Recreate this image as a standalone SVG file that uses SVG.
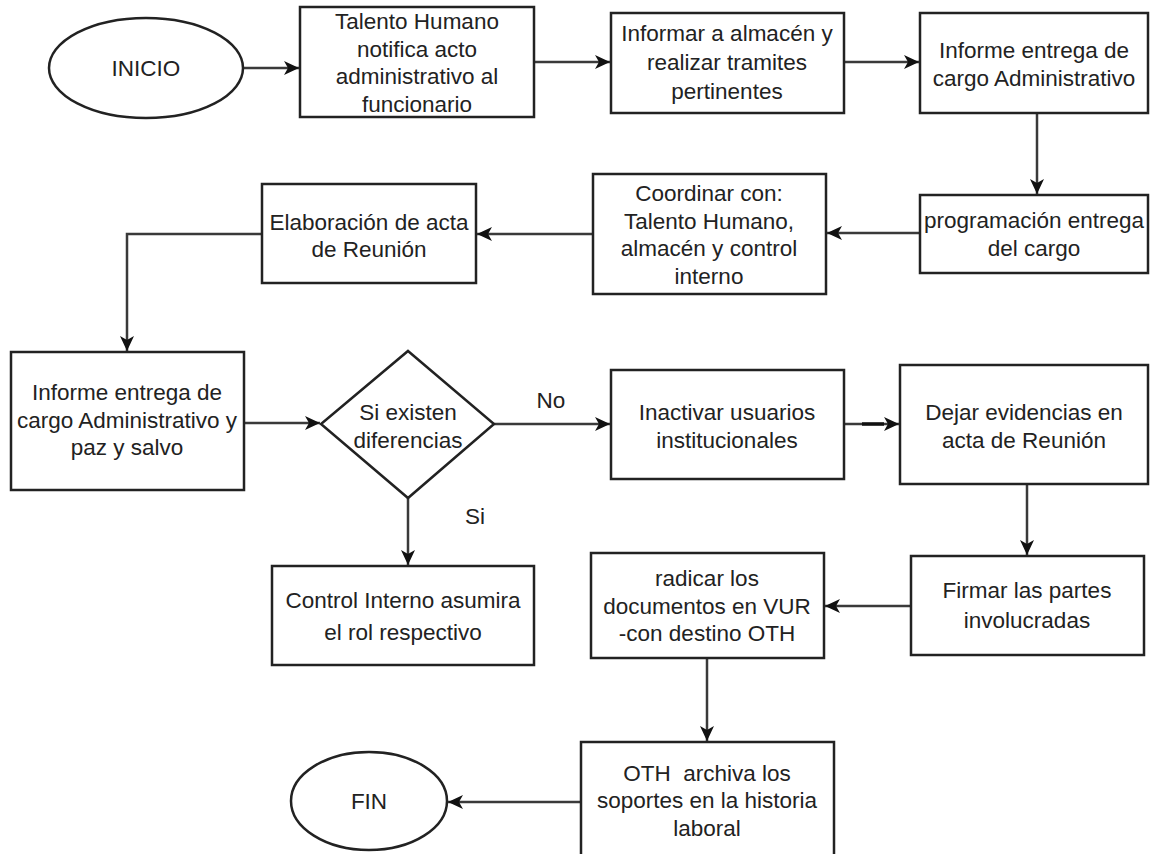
<svg xmlns="http://www.w3.org/2000/svg" width="1151" height="854" viewBox="0 0 1151 854">
<style>
.box{fill:#fff;stroke:#222;stroke-width:2.5}
.t{font-family:"Liberation Sans",Arial,sans-serif;font-size:22.5px;fill:#222;text-anchor:middle}
.c{fill:none;stroke:#3a3a3a;stroke-width:2.5}
</style>
<defs>
<marker id="ah" markerUnits="userSpaceOnUse" markerWidth="16" markerHeight="14" refX="15" refY="7" orient="auto">
<path d="M0,0 L15,7 L0,14 L4,7 z" fill="#111"/>
</marker>
</defs>
<rect width="1151" height="854" fill="#fff"/>
<g id="connectors">
<line class="c" x1="243" y1="68" x2="299" y2="68" marker-end="url(#ah)"/>
<line class="c" x1="534" y1="62" x2="610" y2="62" marker-end="url(#ah)"/>
<line class="c" x1="844" y1="62" x2="919" y2="62" marker-end="url(#ah)"/>
<line class="c" x1="1037" y1="113" x2="1037" y2="194" marker-end="url(#ah)"/>
<line class="c" x1="920" y1="233" x2="827" y2="233" marker-end="url(#ah)"/>
<line class="c" x1="593" y1="234" x2="477" y2="234" marker-end="url(#ah)"/>
<polyline class="c" points="262,234 127,234 127,351" marker-end="url(#ah)"/>
<line class="c" x1="244" y1="423" x2="320" y2="423" marker-end="url(#ah)"/>
<line class="c" x1="494" y1="424" x2="610" y2="424" marker-end="url(#ah)"/>
<line class="c" x1="844" y1="424" x2="899" y2="424" marker-end="url(#ah)"/>
<line x1="862" y1="424" x2="884" y2="424" stroke="#111" stroke-width="3.5"/>
<line class="c" x1="1027" y1="484" x2="1027" y2="555" marker-end="url(#ah)"/>
<line class="c" x1="911" y1="606" x2="825" y2="606" marker-end="url(#ah)"/>
<line class="c" x1="408" y1="498" x2="408" y2="565" marker-end="url(#ah)"/>
<line class="c" x1="707" y1="658" x2="707" y2="741" marker-end="url(#ah)"/>
<line class="c" x1="581" y1="802" x2="448" y2="802" marker-end="url(#ah)"/>
<text class="t" x="551" y="408">No</text>
<text class="t" x="475" y="524">Si</text>
</g>
<g id="inicio">
<ellipse class="box" cx="146" cy="68" rx="97" ry="50"/>
<text class="t" x="146" y="76">INICIO</text>
</g>
<g id="talento">
<rect class="box" x="300" y="7" width="234" height="110"/>
<text class="t"><tspan x="417" y="29">Talento Humano</tspan><tspan x="417" y="57">notifica acto</tspan><tspan x="417" y="84">administrativo al</tspan><tspan x="417" y="112">funcionario</tspan></text>
</g>
<g id="informar">
<rect class="box" x="611" y="13" width="233" height="100"/>
<text class="t"><tspan x="727" y="41">Informar a almacén y</tspan><tspan x="727" y="70">realizar tramites</tspan><tspan x="727" y="99">pertinentes</tspan></text>
</g>
<g id="informe1">
<rect class="box" x="920" y="13" width="228" height="100"/>
<text class="t"><tspan x="1034" y="58">Informe entrega de</tspan><tspan x="1034" y="86">cargo Administrativo</tspan></text>
</g>
<g id="programacion">
<rect class="box" x="920" y="195" width="228" height="78"/>
<text class="t"><tspan x="1034" y="228">programación entrega</tspan><tspan x="1034" y="256">del cargo</tspan></text>
</g>
<g id="coordinar">
<rect class="box" x="593" y="174" width="233" height="120"/>
<text class="t"><tspan x="709" y="201">Coordinar con:</tspan><tspan x="709" y="229">Talento Humano,</tspan><tspan x="709" y="256">almacén y control</tspan><tspan x="709" y="284">interno</tspan></text>
</g>
<g id="elaboracion">
<rect class="box" x="262" y="184" width="214" height="99"/>
<text class="t"><tspan x="369" y="230">Elaboración de acta</tspan><tspan x="369" y="257">de Reunión</tspan></text>
</g>
<g id="informe2">
<rect class="box" x="11" y="352" width="233" height="138"/>
<text class="t"><tspan x="127" y="400">Informe entrega de</tspan><tspan x="127" y="428">cargo Administrativo y</tspan><tspan x="127" y="455">paz y salvo</tspan></text>
</g>
<g id="decision">
<polygon class="box" points="408,351 494,424 408,498 321,424"/>
<text class="t"><tspan x="408" y="420">Si existen</tspan><tspan x="408" y="448">diferencias</tspan></text>
</g>
<g id="inactivar">
<rect class="box" x="611" y="370" width="233" height="109"/>
<text class="t"><tspan x="727" y="420">Inactivar usuarios</tspan><tspan x="727" y="448">institucionales</tspan></text>
</g>
<g id="dejar">
<rect class="box" x="900" y="365" width="248" height="119"/>
<text class="t"><tspan x="1024" y="420">Dejar evidencias en</tspan><tspan x="1024" y="448">acta de Reunión</tspan></text>
</g>
<g id="firmar">
<rect class="box" x="911" y="556" width="233" height="99"/>
<text class="t"><tspan x="1027" y="598">Firmar las partes</tspan><tspan x="1027" y="628">involucradas</tspan></text>
</g>
<g id="radicar">
<rect class="box" x="591" y="553" width="233" height="105"/>
<text class="t"><tspan x="707" y="586">radicar los</tspan><tspan x="707" y="614">documentos en VUR</tspan><tspan x="707" y="641">-con destino OTH</tspan></text>
</g>
<g id="control">
<rect class="box" x="272" y="566" width="262" height="99"/>
<text class="t"><tspan x="403" y="608">Control Interno asumira</tspan><tspan x="403" y="640">el rol respectivo</tspan></text>
</g>
<g id="oth">
<rect class="box" x="581" y="742" width="253" height="130"/>
<text class="t"><tspan x="707" y="781">OTH&#160; archiva los</tspan><tspan x="707" y="808">soportes en la historia</tspan><tspan x="707" y="836">laboral</tspan></text>
</g>
<g id="fin">
<ellipse class="box" cx="369" cy="801" rx="78" ry="49"/>
<text class="t" x="369" y="809">FIN</text>
</g>
</svg>
